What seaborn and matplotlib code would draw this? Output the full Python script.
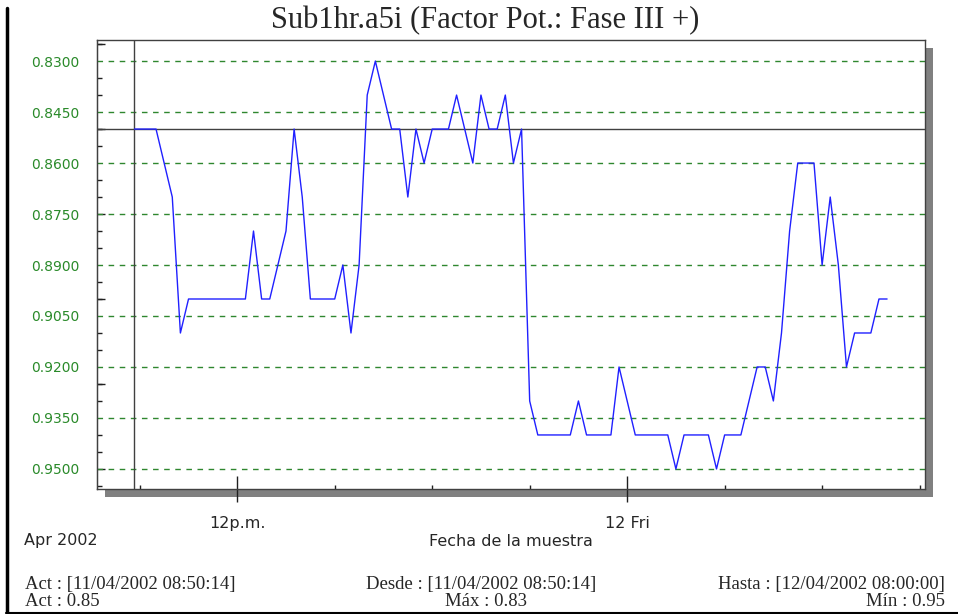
import matplotlib
matplotlib.use("Agg")
import matplotlib.pyplot as plt
import matplotlib.dates as mdates
from matplotlib.patches import Rectangle
from matplotlib.lines import Line2D
from matplotlib.ticker import MultipleLocator, FixedLocator
import pandas as pd
import seaborn as sns

# --- data -------------------------------------------------------------
first_reading = "2002-04-11 08:50:14"
quarter_start = "2002-04-11 09:00"
quarter_end = "2002-04-12 08:00"

factor = [
    0.85,
    0.85, 0.85, 0.85, 0.86, 0.87, 0.91, 0.90, 0.90, 0.90, 0.90,
    0.90, 0.90, 0.90, 0.90, 0.88, 0.90, 0.90, 0.89, 0.88, 0.85,
    0.87, 0.90, 0.90, 0.90, 0.90, 0.89, 0.91, 0.89, 0.84, 0.83,
    0.84, 0.85, 0.85, 0.87, 0.85, 0.86, 0.85, 0.85, 0.85, 0.84,
    0.85, 0.86, 0.84, 0.85, 0.85, 0.84, 0.86, 0.85, 0.93, 0.94,
    0.94, 0.94, 0.94, 0.94, 0.93, 0.94, 0.94, 0.94, 0.94, 0.92,
    0.93, 0.94, 0.94, 0.94, 0.94, 0.94, 0.95, 0.94, 0.94, 0.94,
    0.94, 0.95, 0.94, 0.94, 0.94, 0.93, 0.92, 0.92, 0.93, 0.91,
    0.88, 0.86, 0.86, 0.86, 0.89, 0.87, 0.89, 0.92, 0.91, 0.91,
    0.91, 0.90, 0.90,
]

ytick_values = [0.830, 0.845, 0.860, 0.875, 0.890, 0.905, 0.920, 0.935, 0.950]
ytick_labels = ["0.8300", "0.8450", "0.8600", "0.8750", "0.8900",
                "0.9050", "0.9200", "0.9350", "0.9500"]
xtick_times = ["2002-04-11 12:00", "2002-04-12 00:00"]
xtick_labels = ["12p.m.", "12 Fri"]
act_value = 0.85

title = "Sub1hr.a5i (Factor Pot.: Fase III +)"

times = [pd.Timestamp(first_reading)] + list(
    pd.date_range(quarter_start, quarter_end, freq="15min"))
df = pd.DataFrame({"fecha": times, "factor": factor})

# --- figure -----------------------------------------------------------
sns.set_style("white")
plt.rcParams["font.family"] = ["DejaVu Sans"]

W, H = 958, 614
fig = plt.figure(figsize=(W / 100, H / 100), dpi=100)
fig.patch.set_facecolor("white")

def fx(px):
    return px / W

def fy(py):
    return 1 - py / H

left, right, top, bottom = 97, 925, 40, 489
ax = fig.add_axes([fx(left), fy(bottom), fx(right - left), (bottom - top) / H])
ax.set_zorder(2)

# drop shadow
fig.add_artist(Rectangle((fx(left + 8), fy(bottom + 8)), fx(right - left),
                         (bottom - top) / H, transform=fig.transFigure,
                         facecolor="#808080", edgecolor="none", zorder=1))

sns.lineplot(data=df, x="fecha", y="factor", ax=ax, color="#2020ff",
             lw=1.0, estimator=None, zorder=4)

ax.axhline(act_value, color="#404040", lw=1.0, zorder=3)
ax.axvline(pd.Timestamp(first_reading), color="#404040", lw=1.0, zorder=3)

ax.set_ylim(0.9559, 0.8238)
ax.set_xlim(pd.Timestamp("2002-04-11 07:41"), pd.Timestamp("2002-04-12 09:10"))

green = "#2a8a2a"
ax.set_yticks(ytick_values)
ax.set_yticklabels(ytick_labels)
ax.yaxis.set_minor_locator(MultipleLocator(0.005))
ax.tick_params(axis="y", which="major", length=0, pad=12.5,
               labelsize=10, labelcolor=green)
ax.tick_params(axis="y", which="minor", direction="in", length=3.5,
               width=1, color="#202020", left=True)
ax.grid(axis="y", color="#2f872f", ls=(0, (4, 4)), lw=1.0)
ax.grid(axis="x", visible=False)

ax.set_xticks(pd.to_datetime(xtick_times))
ax.set_xticklabels(xtick_labels)
ax.xaxis.set_minor_locator(mdates.HourLocator(byhour=range(0, 24, 3)))
ax.tick_params(axis="x", which="major", direction="inout", length=19,
               width=1, color="#202020", pad=10, labelsize=11.5, bottom=True)
ax.tick_params(axis="x", which="minor", direction="in", length=3,
               width=1, color="#202020", bottom=True)

# longer ticks every 0.025 on the value axis
sec = ax.secondary_yaxis("left")
sec.yaxis.set_major_locator(FixedLocator([0.825, 0.85, 0.875, 0.9, 0.925, 0.95]))
sec.tick_params(direction="in", length=6, width=1, color="#202020",
                labelleft=False)
sec.spines["left"].set_color("#404040")

ax.set_xlabel("")
ax.set_ylabel("")
for s in ax.spines.values():
    s.set_color("#404040")
    s.set_linewidth(1.0)
    s.set_visible(True)

# --- text ---------------------------------------------------------------
serif = "Liberation Serif"
fig.text(fx(485), fy(21), title, ha="center", va="center",
         family=serif, size=22)
fig.text(fx(24), fy(541), "Apr 2002", ha="left", va="center", size=11.5)
fig.text(fx(511), fy(541), "Fecha de la muestra", ha="center", va="center",
         size=11.5)

foot = dict(family=serif, size=13.5, va="center")
fig.text(fx(25), fy(584), "Act : [11/04/2002 08:50:14]", ha="left", **foot)
fig.text(fx(25), fy(601), "Act : 0.85", ha="left", **foot)
fig.text(fx(481), fy(584), "Desde : [11/04/2002 08:50:14]", ha="center", **foot)
fig.text(fx(486), fy(601), "Máx : 0.83", ha="center", **foot)
fig.text(fx(945), fy(584), "Hasta : [12/04/2002 08:00:00]", ha="right", **foot)
fig.text(fx(945), fy(601), "Mín : 0.95", ha="right", **foot)

# outer frame pieces
fig.add_artist(Line2D([fx(7), fx(7)], [fy(8), fy(613)], color="black", lw=2.5))
fig.add_artist(Line2D([fx(6), 1], [fy(612.5), fy(612.5)], color="black", lw=1.5))

fig.savefig("out.png", dpi=100)
